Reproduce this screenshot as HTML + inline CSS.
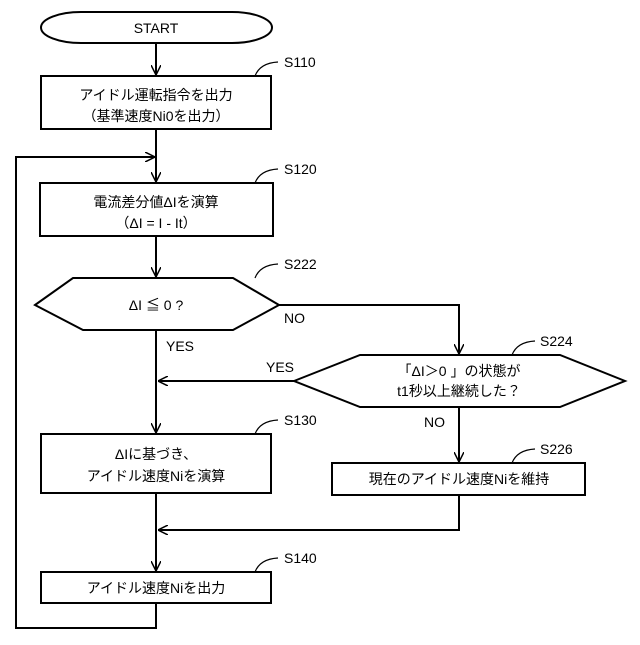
<!DOCTYPE html>
<html><head><meta charset="utf-8"><style>
html,body{margin:0;padding:0;background:#fff;}
svg text{font-family:"Liberation Sans","Noto Sans CJK JP",sans-serif;fill:#000;}
</style></head><body>
<svg width="640" height="640" viewBox="0 0 640 640" xmlns="http://www.w3.org/2000/svg">
<defs><marker id="a" viewBox="0 0 10 10" refX="10" refY="5" markerWidth="10" markerHeight="10" markerUnits="userSpaceOnUse" orient="auto"><path d="M0,0 L10,5 L0,10" fill="none" stroke="#000" stroke-width="1.5"/></marker></defs>
<g fill="none" stroke="#000" stroke-width="2">
<rect x="41" y="12" width="231" height="31" rx="40" ry="15.5"/>
<rect x="41" y="76" width="230" height="53"/>
<rect x="40" y="183" width="233" height="53"/>
<polygon points="35,305 73,278 233,278 279,305 233,330 83,330"/>
<polygon points="294,381 360,355 560,355 625,381 560,407 360,407"/>
<rect x="41" y="434" width="230" height="59"/>
<rect x="332" y="463" width="253" height="32"/>
<rect x="41" y="572" width="230" height="31"/>
<line x1="156" y1="43" x2="156" y2="75" marker-end="url(#a)"/>
<line x1="156" y1="129" x2="156" y2="182" marker-end="url(#a)"/>
<polyline points="156,603 156,628 16,628 16,157 155,157" marker-end="url(#a)"/>
<line x1="156" y1="236" x2="156" y2="277" marker-end="url(#a)"/>
<line x1="156" y1="330" x2="156" y2="433" marker-end="url(#a)"/>
<polyline points="279,305 459,305 459,354" marker-end="url(#a)"/>
<line x1="294" y1="381" x2="158" y2="381" marker-end="url(#a)"/>
<line x1="459" y1="407" x2="459" y2="462" marker-end="url(#a)"/>
<polyline points="459,495 459,530 158,530" marker-end="url(#a)"/>
<line x1="156" y1="493" x2="156" y2="571" marker-end="url(#a)"/>
</g>
<g fill="none" stroke="#000" stroke-width="1.2">
<path d="M255,76 Q260,63 278,62"/>
<path d="M255,183 Q260,170 278,169"/>
<path d="M255,278 Q260,265 278,264"/>
<path d="M512,355 Q517,342 535,341"/>
<path d="M255,434 Q260,421 278,420"/>
<path d="M512,463 Q517,450 535,449"/>
<path d="M255,572 Q260,559 278,558"/>
</g>
<g font-size="14">
<text x="156" y="33" text-anchor="middle">START</text>
<text x="284" y="67">S110</text>
<text x="284" y="174">S120</text>
<text x="284" y="269">S222</text>
<text x="540" y="346">S224</text>
<text x="284" y="425">S130</text>
<text x="540" y="454">S226</text>
<text x="284" y="563">S140</text>
<text x="284" y="323">NO</text>
<text x="166" y="351">YES</text>
<text x="266" y="372">YES</text>
<text x="424" y="427">NO</text>
<text x="156" y="100" text-anchor="middle">アイドル運転指令を出力</text>
<text x="156" y="121" text-anchor="middle">（基準速度Ni0を出力）</text>
<text x="156" y="207" text-anchor="middle">電流差分値ΔIを演算</text>
<text x="156" y="228" text-anchor="middle">（ΔI = I - It）</text>
<text x="156" y="310" text-anchor="middle">ΔI ≦ 0 ?</text>
<text x="459" y="376" text-anchor="middle">「ΔI＞0 」の状態が</text>
<text x="459" y="396" text-anchor="middle">t1秒以上継続した？</text>
<text x="156" y="459" text-anchor="middle">ΔIに基づき、</text>
<text x="156" y="481" text-anchor="middle">アイドル速度Niを演算</text>
<text x="459" y="484" text-anchor="middle">現在のアイドル速度Niを維持</text>
<text x="156" y="593" text-anchor="middle">アイドル速度Niを出力</text>
</g>
</svg>
</body></html>
